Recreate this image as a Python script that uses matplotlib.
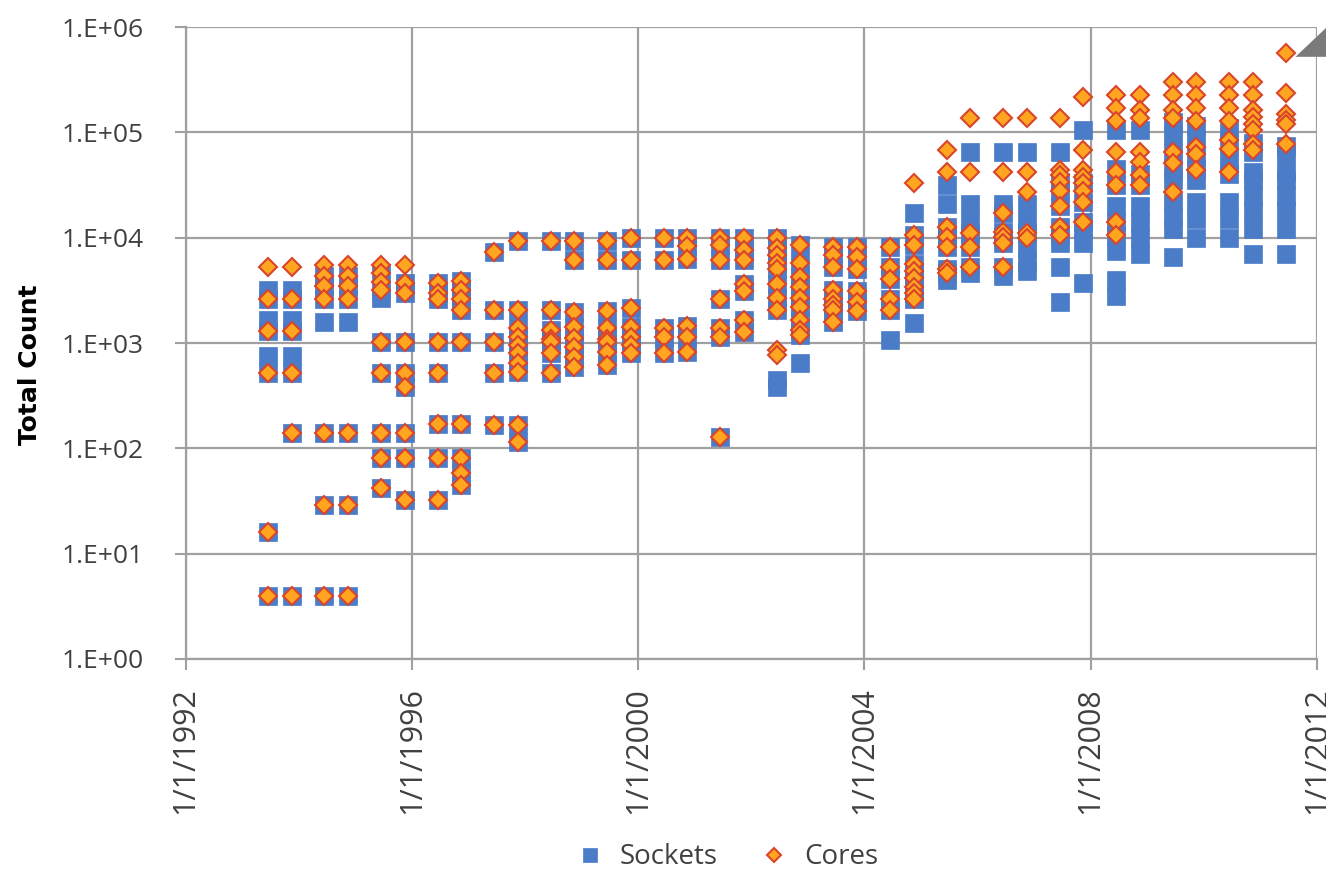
import datetime as dt
import matplotlib
matplotlib.use("Agg")
import matplotlib.pyplot as plt
from matplotlib.patches import Polygon

# TOP500 list dates (June / November)
list_dates = ["1993-06", "1993-11", "1994-06", "1994-11", "1995-06", "1995-11",
              "1996-06", "1996-11", "1997-06", "1997-11", "1998-06", "1998-11",
              "1999-06", "1999-11", "2000-06", "2000-11", "2001-06", "2001-11",
              "2002-06", "2002-11", "2003-06", "2003-11", "2004-06", "2004-11",
              "2005-06", "2005-11", "2006-06", "2006-11", "2007-06", "2007-11",
              "2008-06", "2008-11", "2009-06", "2009-11", "2010-06", "2010-11",
              "2011-06"]

sockets = [
    [3200, 2600, 1650, 1300, 750, 520, 16, 4],
    [3200, 2600, 1650, 1300, 750, 520, 140, 4],
    [4300, 3500, 2600, 1580, 140, 29, 4],
    [4300, 3500, 2600, 1580, 140, 29, 4],
    [4600, 3200, 2700, 1030, 520, 140, 81, 42],
    [3700, 3000, 1030, 520, 380, 140, 81, 32],
    [3700, 3000, 2600, 1030, 520, 170, 81, 32],
    [3900, 3200, 2600, 2050, 1030, 170, 81, 58, 45],
    [7300, 2050, 1030, 520, 166],
    [9300, 2050, 1400, 1150, 950, 800, 650, 530, 166, 115],
    [9300, 2050, 1330, 1100, 1030, 800, 520],
    [9300, 6200, 1950, 1430, 1120, 920, 740, 590],
    [9300, 6200, 2000, 1400, 1100, 1030, 830, 620],
    [9900, 6200, 2150, 1430, 1150, 950, 800],
    [9900, 6200, 1400, 1150, 800],
    [10000, 8300, 6300, 1450, 1150, 830],
    [9900, 8500, 6200, 2600, 1400, 1150, 128],
    [9900, 7600, 6200, 3600, 3100, 1650, 1280],
    [10000, 8000, 6800, 5700, 5000, 3600, 2700, 2050, 450, 380],
    [8500, 5700, 4200, 3400, 2700, 2200, 1650, 1330, 1200, 640],
    [8200, 6800, 5300, 3200, 2600, 2300, 2050, 1600],
    [8200, 6600, 5100, 3100, 2450, 2000],
    [8200, 5300, 4100, 2600, 2050, 1070],
    [17000, 10500, 8500, 5600, 4800, 4150, 3400, 3000, 2600, 1550],
    [32000, 21000, 12700, 10200, 8200, 5100, 4600, 4000],
    [65000, 21000, 14000, 11000, 8200, 5300, 4600],
    [65000, 21000, 17000, 11400, 10200, 8900, 5300, 4300],
    [65000, 21000, 14000, 11000, 8000, 6000, 4800],
    [65000, 34000, 28000, 20000, 12700, 10500, 8900, 5300, 2450],
    [106000, 33000, 22000, 14000, 12000, 9000, 3700],
    [106000, 45000, 32000, 20000, 14000, 10500, 7500, 4000, 2800],
    [106000, 40000, 32000, 20000, 14000, 10000, 7000],
    [125000, 95000, 65000, 45000, 35000, 22000, 16000, 12000, 6500],
    [115000, 85000, 60000, 45000, 35000, 22000, 15000, 10000],
    [110000, 80000, 55000, 40000, 22000, 15000, 10000],
    [80000, 65000, 42000, 35000, 25000, 18000, 12000, 7000],
    [75000, 62000, 42000, 35000, 25000, 18000, 12000, 7000],
]

cores = [
    [5300, 2600, 1300, 520, 16, 4],
    [5300, 2600, 1300, 520, 140, 4],
    [5500, 4300, 3500, 2600, 140, 29, 4],
    [5500, 4300, 3500, 2600, 140, 29, 4],
    [5500, 4600, 3800, 3200, 1030, 520, 140, 81, 42],
    [5500, 3700, 3000, 1030, 520, 380, 140, 81, 32],
    [3700, 3000, 2600, 1030, 520, 170, 81, 32],
    [3900, 3200, 2600, 2050, 1030, 170, 81, 58, 45],
    [7300, 2050, 1030, 520, 166],
    [9300, 2050, 1400, 1150, 950, 800, 650, 530, 166, 115],
    [9300, 2050, 1330, 1100, 1030, 800, 520],
    [9300, 6200, 1950, 1430, 1120, 920, 740, 590],
    [9300, 6200, 2000, 1400, 1100, 1030, 830, 620],
    [9900, 6200, 2150, 1430, 1150, 950, 800],
    [9900, 6200, 1400, 1150, 800],
    [10000, 8300, 6300, 1450, 1150, 830],
    [9900, 8500, 6200, 2600, 1400, 1150, 128],
    [9900, 7600, 6200, 3600, 3100, 1650, 1280],
    [10000, 8000, 6800, 5700, 5000, 3600, 2700, 2050, 860, 770],
    [8500, 5700, 4200, 3400, 2700, 2200, 1650, 1330, 1200],
    [8200, 6800, 5300, 3200, 2600, 2300, 2050, 1600],
    [8200, 6600, 5100, 3100, 2450, 2000],
    [8200, 5300, 4100, 2600, 2050],
    [33000, 10500, 8500, 5600, 4800, 4150, 3400, 3000, 2600],
    [68000, 42500, 12700, 10200, 8200, 5100, 4600],
    [136000, 42500, 11000, 8200, 5300],
    [136000, 42500, 17000, 11400, 10200, 8900, 5300],
    [136000, 42500, 27000, 11000, 10000],
    [136000, 44000, 39000, 34000, 28000, 20000, 12700, 10500],
    [219000, 68000, 44000, 38000, 33000, 28000, 22000, 14000],
    [227000, 170000, 127000, 65000, 42500, 32000, 14000, 10500],
    [227000, 165000, 136000, 65000, 52000, 39000, 32000],
    [300000, 227000, 165000, 136000, 65000, 51000, 27000],
    [300000, 227000, 170000, 127000, 73000, 63000, 44000],
    [300000, 227000, 170000, 127000, 84000, 70000, 42500],
    [300000, 227000, 165000, 140000, 120000, 106000, 77000, 68000],
    [565000, 235000, 150000, 130000, 120000, 77000],
]

tick_years = [1992, 1996, 2000, 2004, 2008, 2012]
y_ticks = [1, 10, 100, 1000, 10000, 100000, 1000000]


def to_date(s):
    y, m = s.split("-")
    return dt.datetime(int(y), int(m), 15)


def flatten(dates, groups):
    xs, ys = [], []
    for d, vals in zip(dates, groups):
        for v in vals:
            xs.append(d)
            ys.append(v)
    return xs, ys


plt.rcParams['font.family'] = ['Open Sans', 'DejaVu Sans']

dates = [to_date(s) for s in list_dates]
xs_s, ys_s = flatten(dates, sockets)
xs_c, ys_c = flatten(dates, cores)

fig = plt.figure(figsize=(13.26, 8.74), dpi=100)
ax = fig.add_axes([0.140, 0.246, 0.853, 0.723])

ax.plot(xs_s, ys_s, linestyle='none', marker='s', markersize=13.5,
        color='#4a7cc8', markeredgecolor='#4a7cc8', markeredgewidth=0.5,
        label='Sockets', zorder=3)
ax.plot(xs_c, ys_c, linestyle='none', marker='D', markersize=9.5,
        color='#ffa51f', markeredgecolor='#d9452b', markeredgewidth=1.5,
        label='Cores', zorder=4)

ax.set_yscale('log')
ax.set_ylim(1, 1e6)
ax.set_yticks(y_ticks)
ax.set_yticklabels(["1.E+%02d" % i for i in range(len(y_ticks))])
ax.minorticks_off()

xt = [dt.datetime(y, 1, 1) for y in tick_years]
ax.set_xlim(xt[0], xt[-1])
ax.set_xticks(xt)
ax.set_xticklabels(["1/1/%d" % y for y in tick_years], rotation=90)

ax.grid(True, color='#a0a0a0', linewidth=1.6)
ax.set_axisbelow(True)
for side in ['top', 'right']:
    ax.spines[side].set_visible(False)
for side in ['left', 'bottom']:
    ax.spines[side].set_color('#a0a0a0')
    ax.spines[side].set_linewidth(1.6)

ax.tick_params(axis='y', length=8, width=1.5, color='#a0a0a0', pad=22,
               labelsize=19, labelcolor='#404040')
ax.tick_params(axis='x', length=8, width=1.5, color='#a0a0a0', pad=12,
               labelsize=22, labelcolor='#404040')

ax.set_ylabel("Total Count", fontsize=18, fontweight='bold',
              family=['Liberation Sans Narrow', 'DejaVu Sans'])
ax.yaxis.set_label_coords(-0.127, 0.465)

fig.legend(loc='center', bbox_to_anchor=(0.543, 0.019), ncol=2,
           frameon=False, fontsize=20, handletextpad=0.1,
           columnspacing=1.0, markerscale=0.7, labelcolor='#404040')

# grey corner triangle in the top right
fig.patches.append(Polygon([[0.977, 0.935], [1.0, 0.968], [1.0, 0.935]],
                           closed=True, transform=fig.transFigure,
                           facecolor='#7a7a7a', edgecolor='none'))

fig.savefig("out.png", dpi=100)
